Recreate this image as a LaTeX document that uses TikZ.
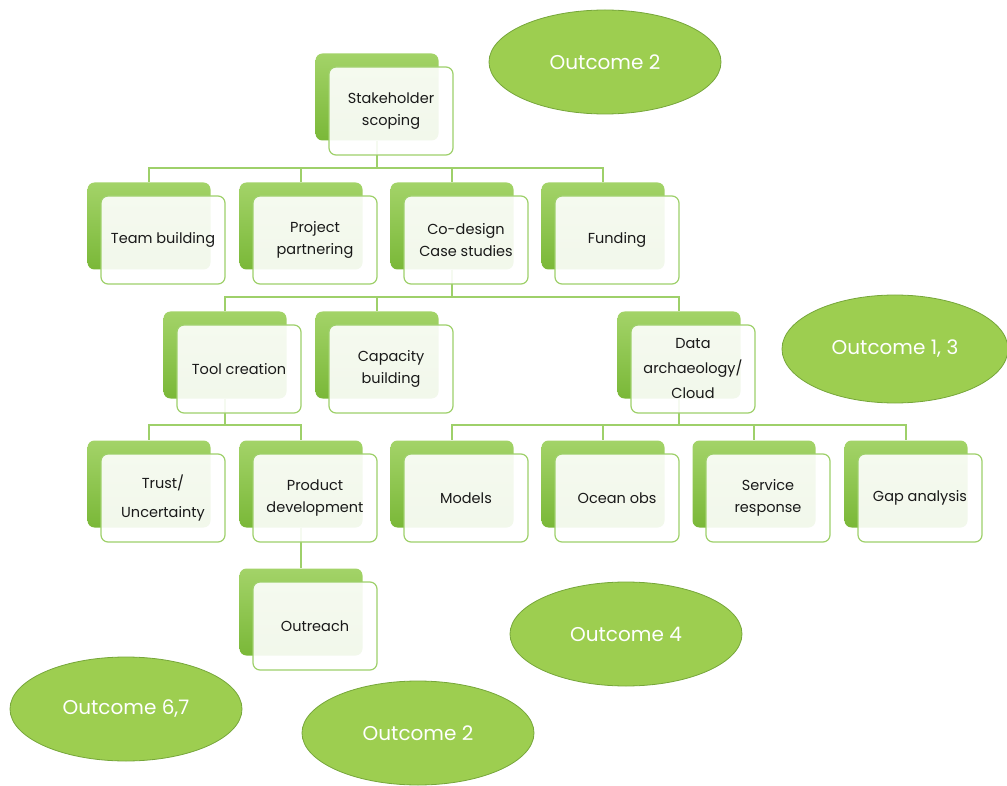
\documentclass[tikz,border=0pt]{standalone}
\usepackage{fontspec}
\setmainfont{Poppins}
\usetikzlibrary{shapes.geometric}
\definecolor{cardtop}{RGB}{163,211,104}
\definecolor{cardbot}{RGB}{122,184,56}
\definecolor{cardline}{RGB}{158,208,106}
\definecolor{blobfill}{RGB}{157,206,80}
\definecolor{blobline}{RGB}{118,166,58}

\tikzset{
  back/.style={rounded corners=7pt, minimum width=123pt, minimum height=87pt,
    inner sep=0, top color=cardtop, bottom color=cardbot, draw=none},
  front/.style={draw=cardline, line width=1.2pt, fill=white, fill opacity=0.9,
    text opacity=1, rounded corners=7pt, minimum width=124pt, minimum height=88pt,
    inner sep=2pt, align=center, text=black!90, font=\fontsize{14.5}{22}\selectfont,
    xshift=14pt, yshift=-14pt},
  conn/.style={draw=cardline, line width=1.5pt},
  outcome/.style={ellipse, draw=blobline, line width=0.8pt, fill=blobfill,
    text=white, font=\fontsize{20}{24}\selectfont, minimum width=232pt,
    minimum height=104pt, inner sep=0},
}

\begin{document}
\begin{tikzpicture}[x=1pt,y=-1pt]
\useasboundingbox (0,0) rectangle (1007,786);

% green cards behind
\node[back] (sk) at (377,97) {};
\node[back] (team) at (149,226) {};
\node[back] (proj) at (301,226) {};
\node[back] (co) at (452,226) {};
\node[back] (fund) at (603,226) {};
\node[back] (tool) at (225,355) {};
\node[back] (cap) at (377,355) {};
\node[back] (data) at (679,355) {};
\node[back] (trust) at (149,484) {};
\node[back] (prod) at (301,484) {};
\node[back] (mod) at (452,484) {};
\node[back] (obs) at (603,484) {};
\node[back] (serv) at (754,484) {};
\node[back] (gap) at (906,484) {};
\node[back] (out) at (301,612) {};

% buses
\coordinate (bus1) at (0,168);
\coordinate (bus2) at (0,297);
\coordinate (bus3) at (0,425);

\begin{scope}[conn]
    \foreach \kid in {team,proj,co,fund}
        \draw (sk.south) -- (sk.south |- bus1) -| (\kid.north);
    \foreach \kid in {tool,cap,data}
        \draw (co.south) -- (co.south |- bus2) -| (\kid.north);
    \foreach \kid in {trust,prod}
        \draw (tool.south) -- (tool.south |- bus3) -| (\kid.north);
    \foreach \kid in {mod,obs,serv,gap}
        \draw (data.south) -- (data.south |- bus3) -| (\kid.north);
    \draw (prod.south) -- (out.north);
\end{scope}

% white cards in front
\node[front] (sk-f) at (sk) {Stakeholder\\scoping};
\node[front] (team-f) at (team) {Team building};
\node[front] (proj-f) at (proj) {Project\\partnering};
\node[front] (co-f) at (co) {Co-design\\Case studies};
\node[front] (fund-f) at (fund) {Funding};
\node[front] (tool-f) at (tool) {Tool creation};
\node[front] (cap-f) at (cap) {Capacity\\building};
\node[front] (data-f) at (data) {Data\\[3pt]archaeology/\\[3pt]Cloud};
\node[front] (trust-f) at (trust) {Trust/\\[7pt]Uncertainty};
\node[front] (prod-f) at (prod) {Product\\development};
\node[front] (mod-f) at (mod) {Models};
\node[front] (obs-f) at (obs) {Ocean obs};
\node[front] (serv-f) at (serv) {Service\\response};
\node[front] (gap-f) at (gap) {Gap analysis};
\node[front] (out-f) at (out) {Outreach};

% outcomes
\node[outcome] (oc2a) at (605,62) {Outcome 2};
\node[outcome, minimum width=226pt, minimum height=108pt] (oc13) at (895,349) {Outcome 1, 3};
\node[outcome] (oc4) at (626,634) {Outcome 4};
\node[outcome] (oc67) at (126,709) {Outcome 6,7};
\node[outcome] (oc2b) at (418,733) {Outcome 2};
\end{tikzpicture}
\end{document}
